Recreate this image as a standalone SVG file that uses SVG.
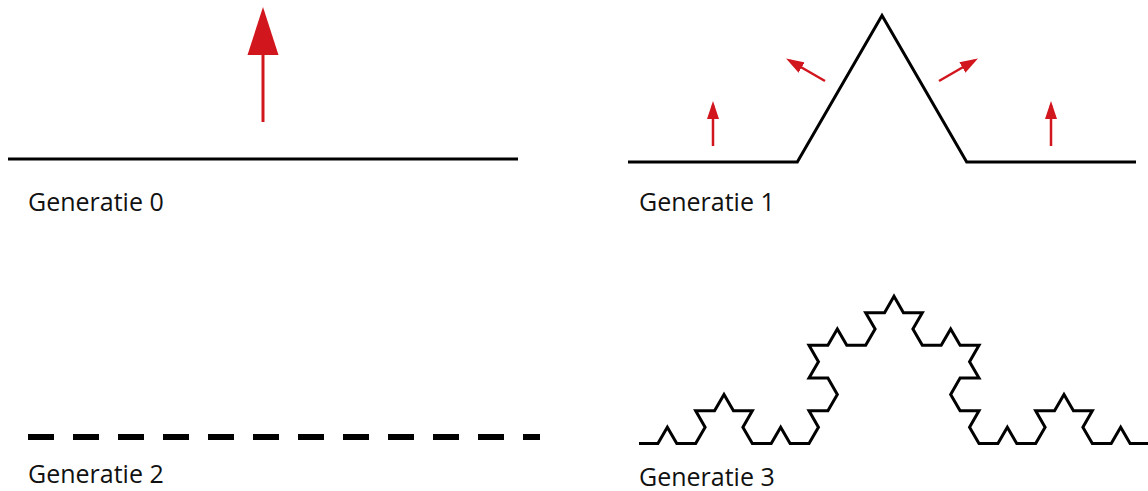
<svg xmlns="http://www.w3.org/2000/svg" width="1148" height="491" viewBox="0 0 1148 491">
  <style>
    .curve { fill: none; stroke: #000; stroke-width: 3; stroke-linejoin: miter; }
    .dash { fill: none; stroke: #000; stroke-width: 6; stroke-dasharray: 26 19; }
    .push { fill: none; stroke: #d2161e; stroke-width: 2.5; marker-end: url(#tip); }
    .label { font-family: "Open Sans", "Noto Sans", sans-serif; font-size: 25px; fill: #111; }
  </style>
  <defs>
    <marker id="tip" markerUnits="userSpaceOnUse" markerWidth="18" markerHeight="12" viewBox="0 0 18 12" refX="14" refY="6" orient="auto">
      <path d="M0,0 L18,6 L0,12 z" fill="#d2161e"/>
    </marker>
  </defs>
  <rect width="1148" height="491" fill="#fff"/>

  <!-- Generation 0: straight segment with upward push -->
  <g id="gen0">
    <path class="curve" d="M8 159 H518"/>
    <path d="M263 122 V52" stroke="#d2161e" stroke-width="3" fill="none"/>
    <path d="M263 7 L247.5 55 L278.5 55 z" fill="#d2161e"/>
    <text class="label" x="28" y="211">Generatie 0</text>
  </g>

  <!-- Generation 1: one bump, four pushes -->
  <g id="gen1">
    <path class="curve" d="M628 162 H797.3 L882 15.4 L966.7 162 H1136"/>
    <text class="label" x="639" y="211">Generatie 1</text>
  </g>

  <!-- Generation 2 -->
  <g id="gen2">
    <path class="dash" d="M28 437 H540"/>
    <text class="label" x="28" y="483">Generatie 2</text>
  </g>

  <!-- Generation 3: Koch curve, 64 segments -->
  <g id="gen3">
    <path class="curve" d="M639 443.5
      h18.889 l9.444-16.358 l9.444 16.358 h18.889 l9.444-16.358 l-9.444-16.358 h18.889 l9.444-16.358 l9.444 16.358 h18.889 l-9.444 16.358 l9.444 16.358 h18.889 l9.444-16.358 l9.444 16.358 h18.889
      l9.444-16.358 l-9.444-16.358 h18.889 l9.444-16.358 l-9.444-16.358 h-18.889 l9.444-16.358 l-9.444-16.358 h18.889 l9.444-16.358 l9.444 16.358 h18.889 l9.444-16.358 l-9.444-16.358 h18.889 l9.444-16.358
      l9.444 16.358 h18.889 l-9.444 16.358 l9.444 16.358 h18.889 l9.444-16.358 l9.444 16.358 h18.889 l-9.444 16.358 l9.444 16.358 h-18.889 l-9.444 16.358 l9.444 16.358 h18.889 l-9.444 16.358 l9.444 16.358
      h18.889 l9.444-16.358 l9.444 16.358 h18.889 l9.444-16.358 l-9.444-16.358 h18.889 l9.444-16.358 l9.444 16.358 h18.889 l-9.444 16.358 l9.444 16.358 h18.889 l9.444-16.358 l9.444 16.358 h18.889"/>
    <text class="label" x="639" y="486">Generatie 3</text>
  </g>

  <!-- pushes on the generation 1 segments -->
  <g id="connectors">
    <path class="push" d="M713 146 V105"/>
    <path class="push" d="M825 81 L789.5 60.5"/>
    <path class="push" d="M939 81 L974.5 60.5"/>
    <path class="push" d="M1051 146 V105"/>
  </g>
</svg>
